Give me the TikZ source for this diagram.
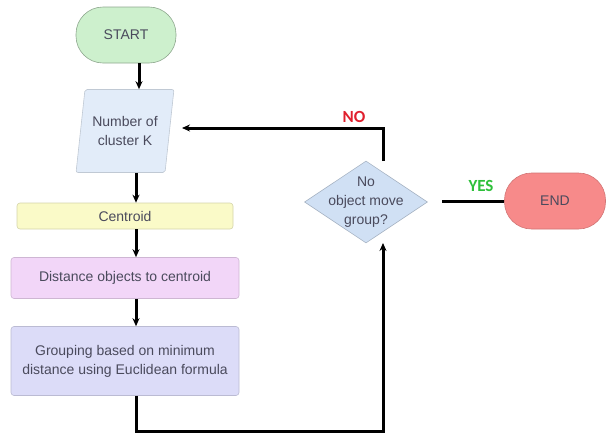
\documentclass[tikz,border=0pt]{standalone}
\usepackage{fontspec}
\setmainfont{Liberation Sans}
\newfontfamily\lblfont{Carlito}
\usetikzlibrary{shapes.geometric,arrows.meta}
\definecolor{startgreen}{HTML}{CDF0CD}
\definecolor{inblue}{HTML}{E2ECF9}
\definecolor{centyellow}{HTML}{FAFAC8}
\definecolor{distpink}{HTML}{F2D6F8}
\definecolor{grouplav}{HTML}{DCDCF8}
\definecolor{decblue}{HTML}{D0E0F4}
\definecolor{endred}{HTML}{F78A8A}
\definecolor{txtgray}{HTML}{4A4A5C}
\definecolor{nored}{HTML}{E0202E}
\definecolor{yesgreen}{HTML}{2EC03A}
\tikzset{
    base/.style={text=txtgray, font=\fontsize{14}{19}\selectfont, align=center, inner sep=0pt},
    term/.style={base, rectangle, rounded corners=27pt, minimum width=100pt, minimum height=56pt},
    box/.style={base, rectangle, rounded corners=3pt, minimum width=228pt},
    lbl/.style={font=\lblfont\fontsize{17}{17}\selectfont\bfseries, inner sep=0pt},
}
\begin{document}
\begin{tikzpicture}[x=1pt, y=-1pt, >={Stealth[length=8pt,width=7pt]}, line width=3pt]
    \useasboundingbox (0,0) rectangle (607,434);
    % left column
    \node[term, fill=startgreen, draw=startgreen!70!black, line width=0.6pt] (start) at (126,35) {START};
    \node[base, trapezium, trapezium left angle=76, trapezium right angle=104, trapezium stretches=true,
          minimum width=98pt, minimum height=83pt, rounded corners=2pt,
          fill=inblue, draw=inblue!85!black, line width=0.6pt] (num) at (125,131) {Number of\\cluster K};
    \node[box, minimum width=216pt, minimum height=26pt, fill=centyellow, draw=centyellow!85!black, line width=0.6pt] (cent) at (125,216) {Centroid};
    \node[box, minimum height=41pt, fill=distpink, draw=distpink!85!black, line width=0.6pt] (dist) at (125,278) {Distance objects to centroid};
    \node[box, minimum height=69pt, fill=grouplav, draw=grouplav!85!black, line width=0.6pt] (group) at (125,361) {Grouping based on minimum\\distance using Euclidean formula};
    % decision and end
    \node[diamond, minimum width=123pt, minimum height=82pt, inner sep=0pt,
          fill=decblue, draw=decblue!80!black, line width=0.6pt] (dec) at (366,202) {};
    \node[base] (dectext) at (dec.center) {No\\object move\\group?};
    \node[term, minimum width=101pt, fill=endred, draw=endred!85!black, line width=0.6pt] (endn) at (555,201) {END};
    \node[lbl, text=nored] (nolbl) at (354,117) {NO};
    \node[lbl, text=yesgreen] (yeslbl) at (481,186) {YES};
    % connectors
    \coordinate (spine) at (136,0);
    \coordinate (spinetop) at (139,0);
    \coordinate (noup) at (383,161);
    \coordinate (noin) at (182,128);
    \coordinate (decin) at (383,243);
    \coordinate (yesout) at (442,201);
    \draw[->] (start.south -| spinetop) -- (num.north -| spinetop);
    \draw[->] (num.south -| spine) -- (cent.north -| spine);
    \draw[->] (cent.south -| spine) -- (dist.north -| spine);
    \draw[->] (dist.south -| spine) -- (group.north -| spine);
    \draw[->] (group.south -| spine) -- ++(0,36) -| (decin);
    \draw[->] (noup) |- (noin);
    \draw (yesout) -- (endn.west);
\end{tikzpicture}
\end{document}
